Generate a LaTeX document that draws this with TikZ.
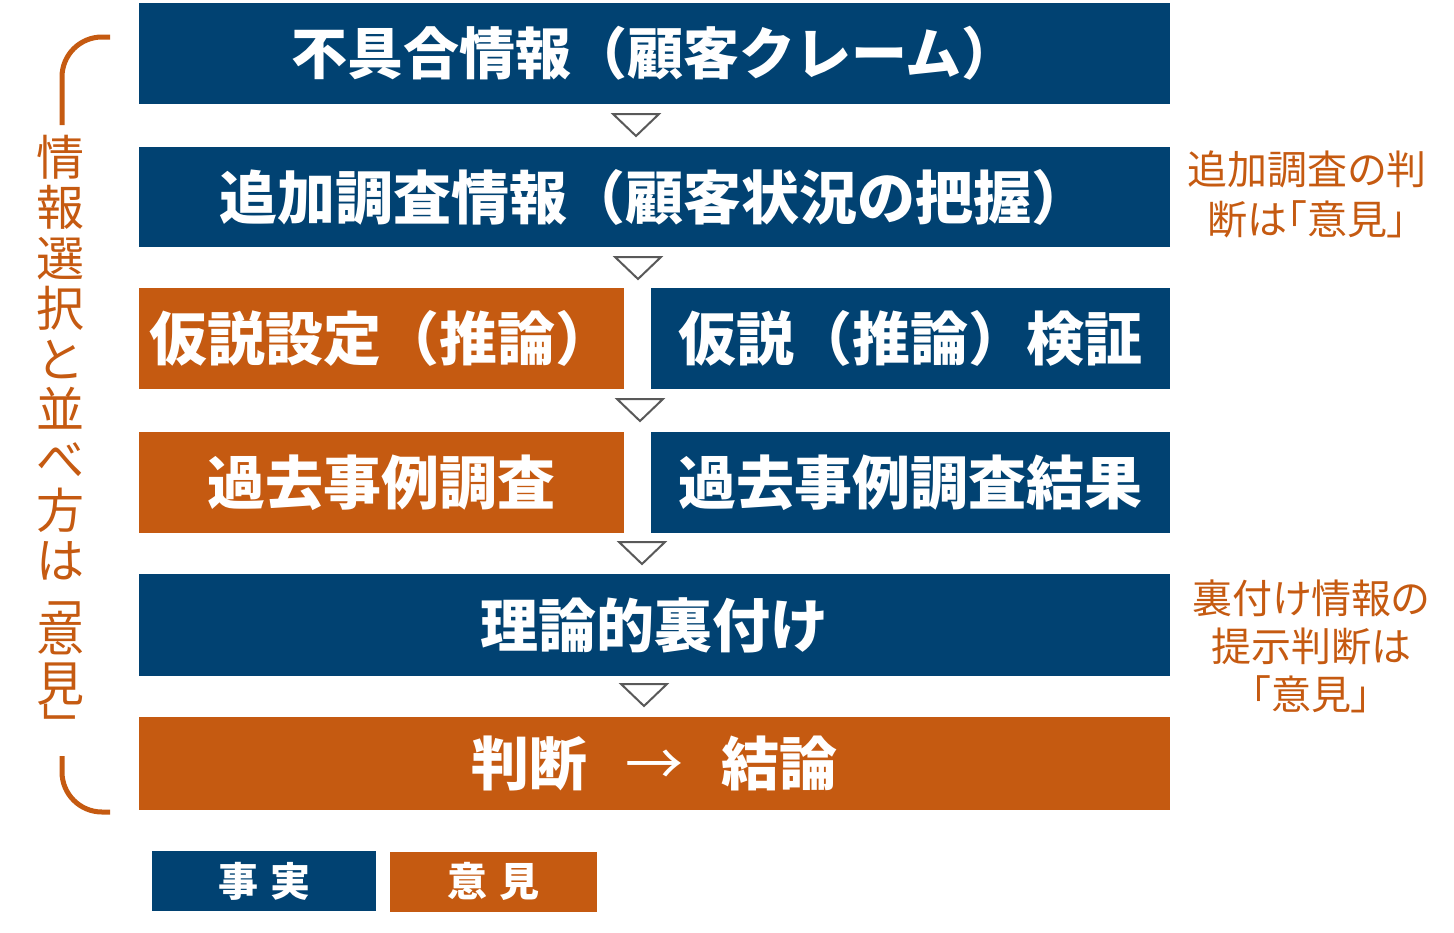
\documentclass[tikz,border=0pt]{standalone}
\usepackage{fontspec}
\usepackage{graphicx}
\usepackage{tikz}
\usetikzlibrary{positioning}
\usepackage{xcolor}
\newfontfamily\jpfont{Noto Sans CJK JP}
\newfontfamily\jpnote[RawFeature=+palt]{Noto Sans CJK JP}
\definecolor{factblue}{RGB}{1,66,114}
\definecolor{opinionorange}{RGB}{197,90,17}
\definecolor{markgray}{RGB}{89,89,89}
\newcommand{\tatemark}[1]{\rotatebox[origin=c]{-90}{#1}}

\begin{document}
\begin{tikzpicture}[x=1pt,y=-1pt,
	  every node/.style={align=center,text=white,draw=none,inner sep=0pt},
	  fact/.style={fill=factblue,minimum height=101pt,font=\jpfont\bfseries\fontsize{58}{60}\selectfont},
	  opinion/.style={fill=opinionorange,minimum height=101pt,font=\jpfont\bfseries\fontsize{58}{60}\selectfont},
	  key/.style={minimum height=60pt,font=\jpfont\bfseries\fontsize{40}{44}\selectfont},
	  remark/.style={text=opinionorange,font=\jpnote\fontsize{40}{50}\selectfont},
	  flowmark/.style={draw=markgray,line width=2pt},
	  bracket/.style={draw=opinionorange,line width=5pt,rounded corners=40pt}]

	  \useasboundingbox (0,0) rectangle (1454,932);

	  % Main flow boxes
	  \node[fact,minimum width=1031pt,font=\jpfont\bfseries\fontsize{56}{60}\selectfont] (claim) at (654.5,53.5) {不具合情報（顧客クレーム）};
	  \node[fact,minimum width=1031pt,minimum height=100pt] (survey) at (654.5,197) {追加調査情報（顧客状況の把握）};
	  \node[opinion,minimum width=485pt] (hypo) at (381.5,338.5) {仮説設定（推論）};
	  \node[fact,minimum width=519pt] (verify) at (910.5,338.5) {仮説（推論）検証};
	  \node[opinion,minimum width=485pt] (casestudy) at (381.5,482.5) {過去事例調査};
	  \node[fact,minimum width=519pt] (caseresult) at (910.5,482.5) {過去事例調査結果};
	  \node[fact,minimum width=1031pt,minimum height=102pt] (theory) at (654.5,625) {理論的裏付け};
	  \node[opinion,minimum width=1031pt,minimum height=93pt] (verdict) at (654.5,763.5) {判断\hspace{0.65em}{\mdseries →}\hspace{0.65em}結論};

	  % Legend
	  \node[key,fill=factblue,minimum width=224pt] (keyfact) at (264,881) {事\hspace{0.3em}実};
	  \node[key,fill=opinionorange,minimum width=207pt] (keyopinion) at (493.5,881.5) {意\hspace{0.3em}見};

	  % Down marks between the rows
	  \foreach \x/\y in {636/114,638/257,640/399,642/542,644/684}
	    \draw[flowmark] (\x-23,\y) -- (\x+23,\y) -- (\x,\y+22) -- cycle;

	  % Side remarks
	  \node[remark] (surveynote) at (1307,194.5) {追加調査の判\\断は「意見」};
	  \node[remark,font=\jpnote\fontsize{40}{48}\selectfont] (theorynote) at (1311,646) {裏付け情報の\\提示判断は\\「意見」};

	  % Left bracket with vertical text
	  \node[text=opinionorange,anchor=north,font=\jpfont\fontsize{48}{50.4}\selectfont] (selection) at (60,135)
	    {情\\報\\選\\択\\と\\並\\べ\\方\\は\\[-14pt]\tatemark{「}\\[-14pt]意\\見\\[-14pt]\tatemark{」}};
	  \coordinate (topend) at (110,37);
	  \coordinate (topfoot) at (62,125);
	  \coordinate (bothead) at (62,756);
	  \coordinate (botend) at (110,812);
	  \draw[bracket] (topend) -| (topfoot);
	  \draw[bracket] (bothead) |- (botend);
\end{tikzpicture}
\end{document}
